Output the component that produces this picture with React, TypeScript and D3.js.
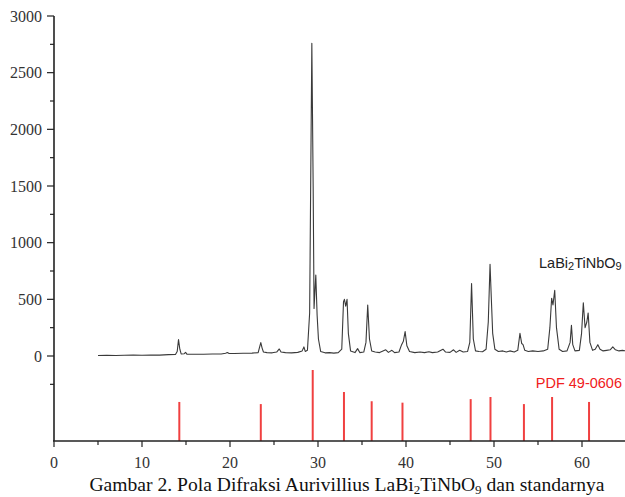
import { useRef, useEffect } from 'react'
import * as d3 from 'd3'

const twoTheta = [
  5, 6, 7, 8, 9, 10, 11, 12, 13, 13.8, 14.0, 14.15, 14.3, 14.45, 14.8, 14.95, 15.1, 16, 17, 18,
  19, 19.5, 19.7, 19.9, 20.5, 21.5, 22.5, 23.2, 23.4, 23.5, 23.65, 23.8, 24.2, 24.8, 25.3, 25.6, 25.8, 26.3, 27, 27.7,
  28.2, 28.4, 28.55, 28.8, 29.05, 29.3, 29.45, 29.55, 29.75, 29.9, 30.05, 30.3, 30.8, 31.3, 31.8, 32.3, 32.7, 32.9, 33.0, 33.15,
  33.3, 33.45, 33.7, 34.2, 34.5, 34.75, 35.2, 35.45, 35.65, 35.85, 36.1, 36.5, 37.0, 37.7, 38.0, 38.4, 38.7, 39.2, 39.5, 39.7,
  39.9, 40.1, 40.4, 41, 41.6, 42.1, 42.6, 43.0, 43.6, 44.2, 44.5, 45.0, 45.4, 45.7, 46.1, 46.5, 47.0, 47.25, 47.45, 47.65,
  47.9, 48.3, 48.7, 49.1, 49.35, 49.55, 49.7, 49.85, 50.1, 50.5, 51.0, 51.4, 51.8, 52.3, 52.7, 52.95, 53.15, 53.3, 53.5, 53.9,
  54.4, 55.0, 55.6, 56.1, 56.35, 56.55, 56.7, 56.9, 57.1, 57.4, 57.8, 58.3, 58.65, 58.8, 58.95, 59.2, 59.7, 59.95, 60.15, 60.35,
  60.55, 60.7, 60.9, 61.2, 61.5, 61.8, 62.05, 62.4, 62.8, 63.2, 63.5, 63.8, 64.2, 64.6, 65
]
const intensity = [
  5, 6, 4, 7, 8, 6, 9, 8, 12, 14, 40, 145, 60, 18, 20, 32, 16, 15, 16, 18,
  17, 24, 30, 22, 22, 24, 25, 30, 90, 118, 70, 35, 30, 28, 35, 62, 35, 30, 28, 32,
  45, 80, 40, 50, 380, 2760, 1500, 420, 715, 360, 150, 40, 28, 30, 25, 30, 60, 480, 500, 440,
  500, 200, 45, 30, 65, 30, 35, 120, 450, 150, 45, 35, 30, 55, 32, 50, 30, 35, 100, 130,
  215, 90, 40, 30, 35, 30, 38, 30, 35, 60, 35, 32, 55, 32, 50, 35, 40, 120, 640, 150,
  45, 40, 38, 60, 300, 810, 500, 200, 60, 40, 45, 35, 45, 35, 50, 200, 110, 100, 50, 40,
  45, 40, 45, 60, 250, 510, 450, 580, 250, 60, 40, 45, 120, 270, 100, 45, 50, 200, 470, 250,
  300, 380, 120, 50, 60, 100, 60, 45, 50, 55, 80, 55, 45, 50, 45
]

// reference pattern PDF 49-0606 (position, relative intensity)
const stickPos = [14.24, 23.5, 29.4, 32.95, 36.1, 39.6, 47.35, 49.6, 53.4, 56.6, 60.8]
const stickInt = [55, 52, 100, 69, 56, 54, 59, 62, 52, 62, 55]

const xMajor = [0, 10, 20, 30, 40, 50, 60]
const xMinor = [5, 15, 25, 35, 45, 55]
const yMajor = [0, 500, 1000, 1500, 2000, 2500, 3000]
const yMinor = [-250, 250, 750, 1250, 1750, 2250, 2750]

const App = () => {
  const ref = useRef<SVGSVGElement>(null)

  useEffect(() => {
    if (!ref.current) return
    const svg = d3.select(ref.current)
    svg.selectAll('*').remove()

    const x = d3.scaleLinear().domain([0, 65]).range([54, 626])
    const y = d3.scaleLinear().domain([-750, 3000]).range([441, 16])
    const ys = d3.scaleLinear().domain([0, 100]).range([441, 370])
    const serif = '"Liberation Serif", "Times New Roman", serif'
    const sans = '"Liberation Sans", Arial, sans-serif'
    const axisColor = '#222'

    svg.append('rect').attr('width', 625).attr('height', 497).attr('fill', '#fff')

    // reference sticks
    svg.append('g').selectAll('line')
      .data(stickPos)
      .enter()
      .append('line')
      .attr('x1', d => x(d)).attr('x2', d => x(d))
      .attr('y1', ys(0))
      .attr('y2', (_, i) => ys(stickInt[i]))
      .attr('stroke', '#f04040')
      .attr('stroke-width', 2)

    // measured pattern
    const pts = twoTheta.map((t, i) => [t, intensity[i]] as [number, number])
    const line = d3.line<[number, number]>().x(d => x(d[0])).y(d => y(d[1]))
    svg.append('path')
      .attr('d', line(pts))
      .attr('fill', 'none')
      .attr('stroke', '#3a3a3a')
      .attr('stroke-width', 1.1)
      .attr('stroke-linejoin', 'round')

    // y axis
    const ga = svg.append('g')
    ga.append('line')
      .attr('x1', x(0)).attr('x2', x(0))
      .attr('y1', y(3000)).attr('y2', y(-750))
      .attr('stroke', axisColor).attr('stroke-width', 1.6)
    ga.selectAll('.ymaj').data(yMajor).enter().append('line')
      .attr('x1', x(0) - 7).attr('x2', x(0))
      .attr('y1', d => y(d)).attr('y2', d => y(d))
      .attr('stroke', axisColor).attr('stroke-width', 1.2)
    ga.selectAll('.ymin').data(yMinor).enter().append('line')
      .attr('x1', x(0) - 4).attr('x2', x(0))
      .attr('y1', d => y(d)).attr('y2', d => y(d))
      .attr('stroke', axisColor).attr('stroke-width', 1.2)
    ga.selectAll('.ylab').data(yMajor).enter().append('text')
      .attr('x', x(0) - 12)
      .attr('y', d => y(d))
      .attr('dy', '0.35em')
      .attr('text-anchor', 'end')
      .attr('font-family', serif)
      .attr('font-size', 16)
      .attr('fill', '#333')
      .text(d => d)

    // x axis
    ga.append('line')
      .attr('x1', x(0) - 1).attr('x2', 625)
      .attr('y1', y(-750)).attr('y2', y(-750))
      .attr('stroke', axisColor).attr('stroke-width', 1.6)
    ga.selectAll('.xmaj').data(xMajor).enter().append('line')
      .attr('x1', d => x(d)).attr('x2', d => x(d))
      .attr('y1', y(-750)).attr('y2', y(-750) + 6)
      .attr('stroke', axisColor).attr('stroke-width', 1.2)
    ga.selectAll('.xmin').data(xMinor).enter().append('line')
      .attr('x1', d => x(d)).attr('x2', d => x(d))
      .attr('y1', y(-750)).attr('y2', y(-750) + 4)
      .attr('stroke', axisColor).attr('stroke-width', 1.2)
    ga.selectAll('.xlab').data(xMajor).enter().append('text')
      .attr('x', d => x(d))
      .attr('y', 468)
      .attr('text-anchor', 'middle')
      .attr('font-family', serif)
      .attr('font-size', 16)
      .attr('fill', '#333')
      .text(d => d)

    // labels
    const lab = svg.append('text')
      .attr('x', 539).attr('y', 268)
      .attr('font-family', sans)
      .attr('font-size', 14.5)
      .attr('fill', '#222')
    lab.append('tspan').text('LaBi')
    lab.append('tspan').attr('font-size', 11).attr('dy', 2).text('2')
    lab.append('tspan').attr('dy', -2).text('TiNbO')
    lab.append('tspan').attr('font-size', 11).attr('dy', 2).text('9')

    svg.append('text')
      .attr('x', 622).attr('y', 388)
      .attr('text-anchor', 'end')
      .attr('font-family', sans)
      .attr('font-size', 14.5)
      .attr('fill', '#f02020')
      .text('PDF 49-0606')

    const cap = svg.append('text')
      .attr('x', 347).attr('y', 491)
      .attr('text-anchor', 'middle')
      .attr('font-family', serif)
      .attr('font-size', 19.6)
      .attr('fill', '#111')
    cap.append('tspan').text('Gambar 2. Pola Difraksi Aurivillius LaBi')
    cap.append('tspan').attr('font-size', 13).attr('dy', 3).text('2')
    cap.append('tspan').attr('dy', -3).text('TiNbO')
    cap.append('tspan').attr('font-size', 13).attr('dy', 3).text('9')
    cap.append('tspan').attr('dy', -3).text(' dan standarnya')
  }, [])

  return (
    <svg
      ref={ref}
      width={625}
      height={497}
      style={{ position: 'absolute', left: 0, top: 0, display: 'block' }}
    />
  )
}

export default App
